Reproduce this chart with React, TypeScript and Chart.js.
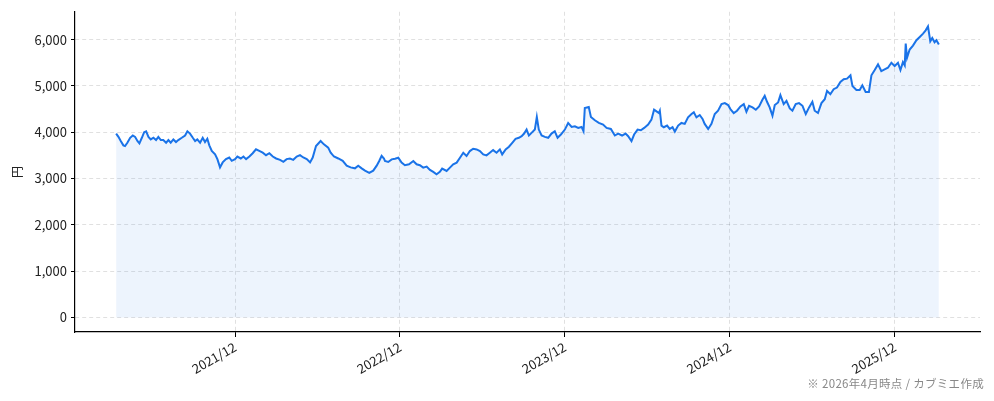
import React, { useEffect, useRef } from "react";
import { Chart, registerables } from "chart.js";

Chart.register(...registerables);

// Dates as decimal years (2021.917 = start of Dec 2021)
const dates: number[] = [
  2021.196, 2021.210, 2021.224, 2021.240, 2021.250, 2021.264, 2021.281, 2021.297, 2021.311, 2021.325,
  2021.337, 2021.352, 2021.366, 2021.378, 2021.392, 2021.406, 2021.422, 2021.438, 2021.452, 2021.467,
  2021.482, 2021.499, 2021.513, 2021.527, 2021.543, 2021.559, 2021.573, 2021.594, 2021.614, 2021.628,
  2021.644, 2021.661, 2021.675, 2021.688, 2021.705, 2021.721, 2021.735, 2021.749, 2021.761, 2021.776,
  2021.796, 2021.810, 2021.826, 2021.842, 2021.862, 2021.882, 2021.897, 2021.917, 2021.931, 2021.952,
  2021.968, 2021.984, 2022.004, 2022.024, 2022.044, 2022.064, 2022.085, 2022.105, 2022.125, 2022.146,
  2022.166, 2022.190, 2022.210, 2022.230, 2022.250, 2022.270, 2022.291, 2022.311, 2022.331, 2022.352,
  2022.372, 2022.388, 2022.408, 2022.436, 2022.456, 2022.482, 2022.497, 2022.517, 2022.543, 2022.570,
  2022.594, 2022.618, 2022.644, 2022.664, 2022.685, 2022.705, 2022.731, 2022.755, 2022.776, 2022.792,
  2022.806, 2022.820,
  2022.826, 2022.846, 2022.867, 2022.887, 2022.907, 2022.927, 2022.947, 2022.972, 2022.998, 2023.018,
  2023.038, 2023.058, 2023.079, 2023.099, 2023.119, 2023.139, 2023.159, 2023.173, 2023.200, 2023.220,
  2023.240, 2023.261, 2023.281, 2023.301, 2023.321, 2023.341, 2023.361, 2023.382, 2023.402, 2023.422,
  2023.442, 2023.462, 2023.482, 2023.503, 2023.523, 2023.537, 2023.558, 2023.578, 2023.598, 2023.618,
  2023.638, 2023.655, 2023.670, 2023.685, 2023.699, 2023.715, 2023.735, 2023.747, 2023.759, 2023.776,
  2023.796, 2023.816, 2023.836, 2023.856, 2023.873, 2023.893, 2023.917, 2023.937, 2023.958, 2023.978,
  2023.998, 2024.018, 2024.030, 2024.038, 2024.062, 2024.075, 2024.099, 2024.123, 2024.149, 2024.170,
  2024.196, 2024.220, 2024.240, 2024.264, 2024.285, 2024.301, 2024.321, 2024.337, 2024.358, 2024.378,
  2024.398, 2024.422, 2024.442, 2024.458, 2024.473, 2024.487,
  2024.493, 2024.503, 2024.517, 2024.537, 2024.553, 2024.570, 2024.584, 2024.604, 2024.624, 2024.644,
  2024.664, 2024.685, 2024.699, 2024.715, 2024.735, 2024.752, 2024.765, 2024.786, 2024.806, 2024.826,
  2024.846, 2024.867, 2024.887, 2024.907, 2024.921, 2024.941, 2024.961, 2024.982, 2025.002, 2025.018,
  2025.034, 2025.055, 2025.075, 2025.095, 2025.115, 2025.129, 2025.143, 2025.159, 2025.176, 2025.190,
  2025.210, 2025.224, 2025.244, 2025.261, 2025.281, 2025.297, 2025.317, 2025.337, 2025.358, 2025.378,
  2025.398, 2025.418, 2025.432, 2025.452, 2025.473, 2025.493, 2025.507, 2025.527, 2025.547, 2025.567,
  2025.588, 2025.608, 2025.628, 2025.649, 2025.661, 2025.685, 2025.705, 2025.721, 2025.741, 2025.761,
  2025.776, 2025.796, 2025.816, 2025.836, 2025.856, 2025.876, 2025.897, 2025.917, 2025.937, 2025.952,
  2025.967, 2025.978, 2025.984, 2025.992, 2026.008, 2026.028, 2026.049, 2026.069, 2026.089, 2026.105,
  2026.119, 2026.133, 2026.145, 2026.159, 2026.170, 2026.185,
];

// Share price (yen)
const prices: number[] = [
  3970, 3900, 3810, 3716, 3700, 3773, 3880, 3930, 3900, 3810,
  3760, 3880, 4000, 4020, 3900, 3844, 3880, 3830, 3900, 3830,
  3830, 3773, 3830, 3773, 3844, 3787, 3830, 3880, 3930, 4020,
  3970, 3880, 3810, 3844, 3773, 3880, 3787, 3858, 3716, 3596,
  3525, 3419, 3241, 3348, 3419, 3454, 3383, 3419, 3475, 3433,
  3475, 3419, 3475, 3546, 3631, 3596, 3560, 3504, 3546, 3475,
  3433, 3404, 3362, 3419, 3433, 3404, 3475, 3504, 3454, 3419,
  3348, 3454, 3702, 3810, 3738, 3667, 3560, 3475, 3433, 3383,
  3277, 3241, 3220, 3277, 3220, 3170, 3121, 3170, 3277, 3383,
  3490, 3433,
  3379, 3357, 3414, 3429, 3450, 3343, 3286, 3307, 3379, 3307,
  3286, 3236, 3257, 3186, 3143, 3093, 3143, 3214, 3164, 3236,
  3307, 3343, 3450, 3557, 3486, 3593, 3643, 3629, 3593, 3521,
  3500, 3557, 3614, 3557, 3629, 3521, 3629, 3686, 3771, 3857,
  3879, 3914, 3971, 4057, 3929, 3986, 4057, 4329, 4057, 3929,
  3900, 3879, 3971, 4021, 3879, 3950, 4057, 4200, 4114, 4129,
  4093, 4114, 4021, 4521, 4543, 4329, 4257, 4200, 4164, 4093,
  4071, 3929, 3971, 3929, 3971, 3914, 3807, 3950, 4057, 4043,
  4093, 4164, 4271, 4486, 4450, 4414,
  4464, 4143, 4107, 4143, 4071, 4107, 4014, 4143, 4200, 4179,
  4321, 4393, 4429, 4321, 4371, 4286, 4179, 4071, 4179, 4393,
  4464, 4607, 4629, 4586, 4500, 4414, 4464, 4557, 4607, 4443,
  4571, 4536, 4486, 4557, 4700, 4786, 4657, 4536, 4357, 4586,
  4643, 4800, 4607, 4679, 4514, 4464, 4607, 4629, 4571, 4393,
  4536, 4657, 4464, 4414, 4629, 4714, 4893, 4821, 4929, 4964,
  5086, 5143, 5157, 5229, 5000, 4914, 4914, 5014, 4871, 4871,
  5229, 5343, 5464, 5321, 5357, 5393, 5500, 5429, 5500, 5343,
  5514, 5443, 5914, 5607, 5786, 5871, 5986, 6057, 6129, 6200,
  6286, 5964, 6036, 5943, 5986, 5893,
];

const xTickValues: number[] = [2021.917, 2022.917, 2023.917, 2024.917, 2025.917];
const xTickLabels: string[] = ["2021/12", "2022/12", "2023/12", "2024/12", "2025/12"];
const yTickValues: number[] = [0, 1000, 2000, 3000, 4000, 5000, 6000];
const yAxisTitle = "円";
const footnote = "※ 2026年4月時点 / カブミエ作成";

const FONT = "'Noto Sans CJK JP', 'DejaVu Sans', sans-serif";

export default function App() {
  const canvasRef = useRef<HTMLCanvasElement | null>(null);

  useEffect(() => {
    document.body.style.margin = "0";
    const canvas = canvasRef.current;
    if (!canvas) return;

    const xMinData = dates[0];
    const xMaxData = dates[dates.length - 1];
    const xPad = (xMaxData - xMinData) * 0.05;
    const yMaxData = Math.max(...prices);
    const yPad = yMaxData * 0.05;

    const chart = new Chart(canvas, {
      type: "line",
      data: {
        datasets: [
          {
            data: dates.map((d, i) => ({ x: d, y: prices[i] })),
            borderColor: "#1a73e8",
            borderWidth: 2,
            backgroundColor: "rgba(26,115,232,0.08)",
            fill: "origin",
            pointRadius: 0,
            tension: 0,
          },
        ],
      },
      options: {
        animation: false,
        responsive: true,
        maintainAspectRatio: false,
        devicePixelRatio: 1,
        layout: { padding: { top: 10, right: 14, left: 0, bottom: 0 } },
        plugins: {
          legend: { display: false },
          tooltip: { enabled: false },
        },
        scales: {
          x: {
            type: "linear",
            min: xMinData - xPad,
            max: xMaxData + xPad,
            afterBuildTicks: (scale: any) => {
              scale.ticks = xTickValues.map((v) => ({ value: v }));
            },
            afterFit: (scale: any) => {
              scale.height = 69;
            },
            ticks: {
              autoSkip: false,
              minRotation: 30,
              maxRotation: 30,
              padding: 2,
              color: "#222",
              font: { family: FONT, size: 13 },
              callback: (value: any) => {
                const idx = xTickValues.findIndex((v) => Math.abs(v - Number(value)) < 1e-6);
                return idx >= 0 ? xTickLabels[idx] : "";
              },
            },
            grid: {
              color: "rgba(0,0,0,0.12)",
              tickLength: 5,
              tickColor: "#000",
              tickBorderDash: [],
              tickWidth: 1,
            },
            border: { display: true, color: "#000", width: 1.2, dash: [4, 3] },
          },
          y: {
            type: "linear",
            min: -yPad,
            max: yMaxData + yPad,
            afterBuildTicks: (scale: any) => {
              scale.ticks = yTickValues.map((v) => ({ value: v }));
            },
            afterFit: (scale: any) => {
              scale.width = 75;
            },
            ticks: {
              padding: 4,
              color: "#222",
              font: { family: FONT, size: 13 },
              callback: (value: any) => Number(value).toLocaleString("en-US"),
            },
            grid: {
              color: "rgba(0,0,0,0.12)",
              tickLength: 4,
              tickColor: "#000",
              tickBorderDash: [],
              tickWidth: 1,
            },
            border: { display: true, color: "#000", width: 1.2, dash: [4, 3] },
            title: {
              display: true,
              text: yAxisTitle,
              color: "#222",
              font: { family: FONT, size: 12 },
              padding: { top: 10, bottom: 0 },
            },
          },
        },
      },
    });

    return () => {
      chart.destroy();
    };
  }, []);

  return (
    <div style={{ position: "relative", width: 994, height: 401 }}>
      <canvas ref={canvasRef} width={994} height={401} />
      <div
        style={{
          position: "absolute",
          right: 10,
          top: 376,
          fontFamily: FONT,
          fontSize: 11.5,
          letterSpacing: "0.3px",
          color: "#888",
          whiteSpace: "nowrap",
          lineHeight: "14px",
        }}
      >
        {footnote}
      </div>
    </div>
  );
}
